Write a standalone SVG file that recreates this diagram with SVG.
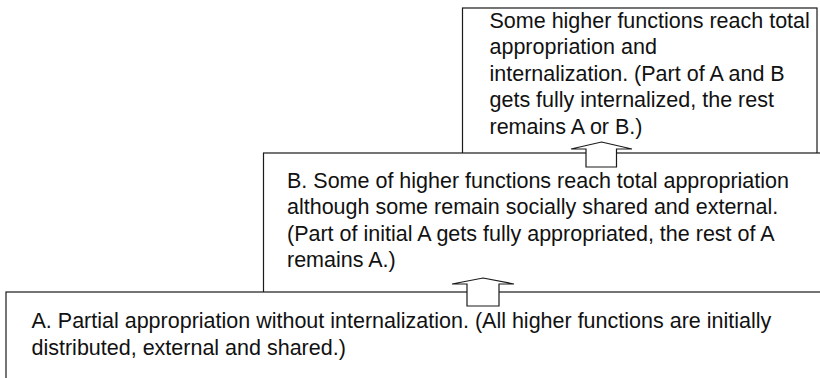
<svg xmlns="http://www.w3.org/2000/svg" width="820" height="378" viewBox="0 0 820 378">
  <style>
    .box { fill: #ffffff; stroke: #1a1a1a; stroke-width: 1.2; }
    .arrow { fill: #ffffff; stroke: #1a1a1a; stroke-width: 1.2; stroke-linejoin: miter; }
    .t { font-family: "Liberation Sans", Arial, sans-serif; font-size: 21.5px; fill: #111111; }
  </style>
  <rect width="820" height="378" fill="#ffffff"/>
  <g id="node-internalization">
    <rect class="box" x="462.5" y="8" width="354.5" height="170"/>
    <text class="t" x="489.5">
      <tspan x="489.5" y="27.5">Some higher functions reach total</tspan>
      <tspan x="489.5" y="54">appropriation and</tspan>
      <tspan x="489.5" y="80.5">internalization. (Part of A and B</tspan>
      <tspan x="489.5" y="107">gets fully internalized, the rest</tspan>
      <tspan x="489.5" y="133.5">remains A or B.)</tspan>
    </text>
  </g>
  <g id="node-appropriation">
    <rect class="box" x="263.5" y="153" width="570" height="160"/>
    <text class="t">
      <tspan x="287" y="187.5">B. Some of higher functions reach total appropriation</tspan>
      <tspan x="287" y="214">although some remain socially shared and external.</tspan>
      <tspan x="287" y="240.5">(Part of initial A gets fully appropriated, the rest of A</tspan>
      <tspan x="287" y="267">remains A.)</tspan>
    </text>
  </g>
  <g id="node-partial">
    <rect class="box" x="6" y="292" width="830" height="100"/>
    <text class="t">
      <tspan x="31.5" y="327.5">A. Partial appropriation without internalization. (All higher functions are initially</tspan>
      <tspan x="31.5" y="355">distributed, external and shared.)</tspan>
    </text>
  </g>
  <g id="connectors">
    <polygon class="arrow" points="601.5,142 632,149 616.5,149 616.5,167 586,167 586,149 571,149"/>
    <polygon class="arrow" points="483,278 514,284 499,284 499,306 467,306 467,284 452,284"/>
  </g>
</svg>
